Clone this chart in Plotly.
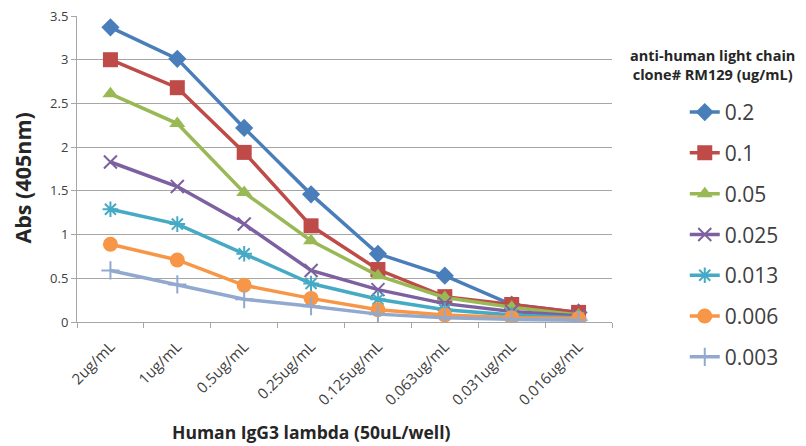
import plotly.graph_objects as go

categories = ["2ug/mL", "1ug/mL", "0.5ug/mL", "0.25ug/mL", "0.125ug/mL", "0.063ug/mL", "0.031ug/mL", "0.016ug/mL"]
series_names = ["0.2", "0.1", "0.05", "0.025", "0.013", "0.006", "0.003"]
s_02 = [3.37, 3.01, 2.22, 1.46, 0.78, 0.53, 0.20, 0.11]
s_01 = [3.00, 2.68, 1.94, 1.10, 0.60, 0.29, 0.20, 0.11]
s_005 = [2.61, 2.27, 1.48, 0.93, 0.53, 0.28, 0.17, 0.08]
s_0025 = [1.83, 1.55, 1.12, 0.59, 0.37, 0.21, 0.12, 0.07]
s_0013 = [1.29, 1.12, 0.78, 0.44, 0.26, 0.14, 0.08, 0.05]
s_0006 = [0.89, 0.71, 0.42, 0.27, 0.14, 0.08, 0.05, 0.04]
s_0003 = [0.59, 0.43, 0.26, 0.18, 0.09, 0.05, 0.03, 0.02]
values = [s_02, s_01, s_005, s_0025, s_0013, s_0006, s_0003]
y_ticks = [0, 0.5, 1, 1.5, 2, 2.5, 3, 3.5]

colors = ["#4A7EBB", "#BE4B48", "#98B954", "#7D60A0", "#46AAC5", "#F79646", "#92A9CF"]
symbols = ["diamond", "square", "triangle-up", "x-thin", "asterisk", "circle", "cross-thin"]
sizes = [14, 15, 14, 13, 13, 15, 13]

FONT = "'Open Sans', Lato, sans-serif"

fig = go.Figure()
for i, (name, vals) in enumerate(zip(series_names, values)):
    thin = symbols[i] in ("x-thin", "asterisk", "cross-thin")
    fig.add_trace(go.Scatter(
        x=categories, y=vals, name=name, mode="lines+markers",
        legendgroup=name,
        line=dict(color=colors[i], width=3.5),
        marker=dict(symbol=symbols[i], size=sizes[i], color=colors[i],
                    line=dict(color=colors[i], width=2 if thin else 0)),
    ))

# page body adds an 8px margin, so the figure is 8px smaller and offset
fig.update_layout(
    width=798, height=438,
    margin=dict(l=69, r=194, t=8, b=124, autoexpand=False),
    paper_bgcolor="white", plot_bgcolor="white",
    font=dict(family=FONT, color="#404040", size=12),
    showlegend=True,
    legend=dict(x=1.136, y=0.752, xanchor="left", yanchor="top",
                font=dict(size=21, color="#404040", family=FONT),
                tracegroupgap=10.5, itemwidth=30, bgcolor="rgba(0,0,0,0)"),
    annotations=[
        dict(text="<b>anti-human light chain<br>clone# RM129 (ug/mL)</b>",
             xref="paper", yref="paper", x=1.187, y=0.84, xanchor="center", yanchor="middle",
             showarrow=False, font=dict(size=14.5, color="#262626", family=FONT), align="center"),
        dict(text="<b>Human IgG3 lambda (50uL/well)</b>",
             xref="paper", yref="paper", x=0.439, y=-0.359, xanchor="center", yanchor="middle",
             showarrow=False, font=dict(size=17.5, color="#262626", family=FONT)),
        dict(text="<b>Abs (405nm)</b>", textangle=-90,
             xref="paper", yref="paper", x=-0.102, y=0.47, xanchor="center", yanchor="middle",
             showarrow=False, font=dict(size=21.5, color="#262626", family=FONT)),
    ],
)
fig.update_xaxes(
    type="category", range=[-0.5, 7.5], tickson="boundaries", automargin=False,
    ticks="outside", ticklen=5, tickcolor="#A6A6A6",
    showline=True, linecolor="#A6A6A6", linewidth=1, showgrid=False,
    tickangle=-45, tickfont=dict(size=15, color="#404040"),
    ticklabelstandoff=9, ticklabeloverflow="allow",
)
fig.update_yaxes(
    range=[0, 3.5], tickvals=y_ticks, ticktext=[f"{v:g}" for v in y_ticks], automargin=False,
    ticks="outside", ticklen=5, tickcolor="#A6A6A6",
    showline=True, linecolor="#A6A6A6", linewidth=1,
    showgrid=True, gridcolor="#A6A6A6", gridwidth=1, zeroline=False,
    tickfont=dict(size=13, color="#404040"), ticklabeloverflow="allow",
)

fig.write_html("out.html")
